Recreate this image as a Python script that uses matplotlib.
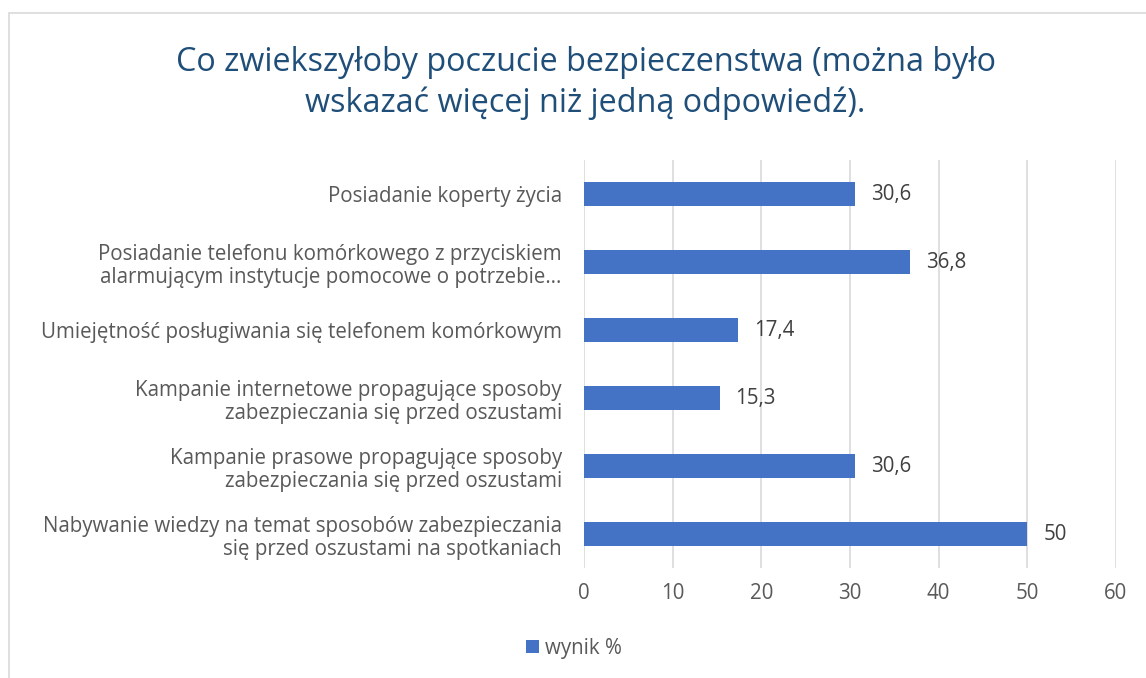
import matplotlib.pyplot as plt
from matplotlib.patches import Rectangle

plt.rcParams['font.family'] = ['Open Sans', 'DejaVu Sans']

# data (top to bottom as in the chart)
labels = [
    'Posiadanie koperty życia',
    'Posiadanie telefonu komórkowego z przyciskiem\nalarmującym instytucje pomocowe o potrzebie…',
    'Umiejętność posługiwania się telefonem komórkowym',
    'Kampanie internetowe propagujące sposoby\nzabezpieczania się przed oszustami',
    'Kampanie prasowe propagujące sposoby\nzabezpieczania się przed oszustami',
    'Nabywanie wiedzy na temat sposobów zabezpieczania\nsię przed oszustami na spotkaniach',
]
values = [30.6, 36.8, 17.4, 15.3, 30.6, 50]
value_text = ['30,6', '36,8', '17,4', '15,3', '30,6', '50']
ticks = [0, 10, 20, 30, 40, 50, 60]

bar_color = '#4472C4'
text_color = '#595959'
fs = 14.8

fig = plt.figure(figsize=(11.46, 6.78), dpi=100)
ax = fig.add_axes([0.5096, 0.1622, 0.4642, 0.6018])

# outer chart border
fig.patches.append(Rectangle((9 / 1146, -0.1), 1.2, 1 - 13 / 678 + 0.1,
                             transform=fig.transFigure, fill=False,
                             edgecolor='#D9D9D9', linewidth=1.2))

pos = list(range(len(values)))[::-1]
ax.barh(pos, values, height=0.36, color=bar_color, label='wynik %', zorder=3)
for p, v, t in zip(pos, values, value_text):
    ax.text(v + 1.8, p, t, va='center', ha='left', fontsize=fs, color='#404040')

ax.set_xlim(0, 60)
ax.set_ylim(-0.5, 5.5)
ax.set_xticks(ticks)
ax.set_xticklabels([str(t) for t in ticks], fontsize=fs, color=text_color)
ax.set_yticks(pos)
ax.set_yticklabels(labels, fontsize=fs, color=text_color, ha='right',
                   linespacing=1.15)
ax.tick_params(axis='both', length=0)
ax.tick_params(axis='x', pad=11)
ax.tick_params(axis='y', pad=16)
ax.grid(axis='x', color='#D9D9D9', linewidth=1.2, zorder=0)
for s in ax.spines.values():
    s.set_visible(False)

fig.text(0.511, 0.877, 'Co zwiekszyłoby poczucie bezpieczenstwa (można było\nwskazać więcej niż jedną odpowiedź).',
         ha='center', va='center', fontsize=23.3, color='#1F4E79', linespacing=1.3)

fig.legend(loc='center', bbox_to_anchor=(0.501, 0.044), frameon=False,
           fontsize=fs, labelcolor=text_color, handlelength=0.6, handleheight=0.6,
           handletextpad=0.3)

fig.savefig('out.png', dpi=100, facecolor='white')
